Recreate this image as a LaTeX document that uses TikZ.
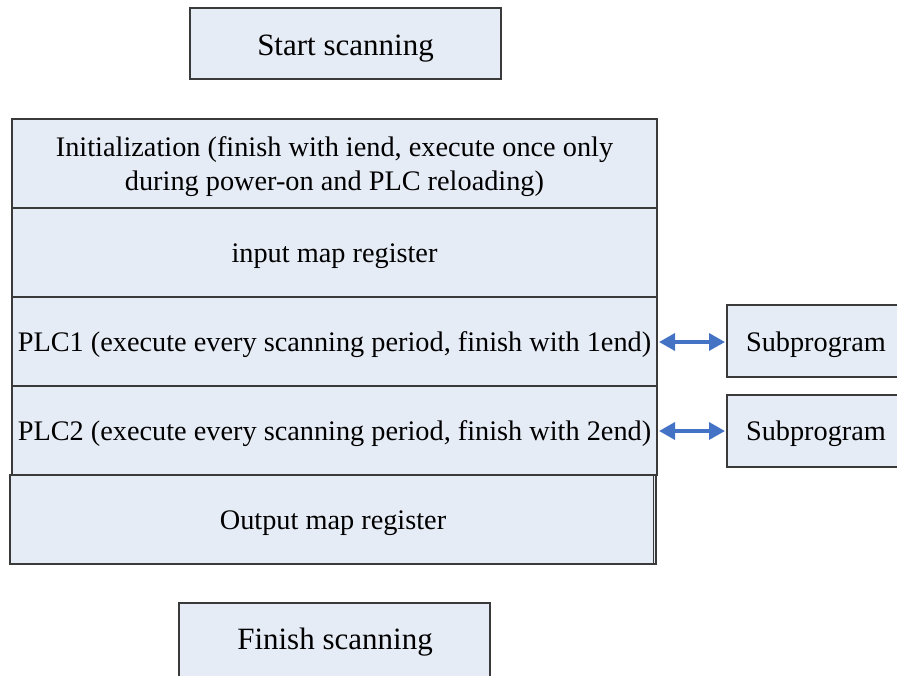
\documentclass[tikz,border=0pt]{standalone}
\usepackage{fontspec}
\setmainfont{Liberation Serif}
\usetikzlibrary{arrows.meta}
\definecolor{boxfill}{HTML}{E6ECF6}
\definecolor{boxline}{HTML}{3A3A3A}
\definecolor{arrowblue}{HTML}{4472C4}
\begin{document}
\begin{tikzpicture}[x=1pt,y=-1pt,
  blk/.style={draw=boxline,line width=1.2pt,fill=boxfill},
  lbl/.style={font=\fontsize{28.3}{34}\selectfont,align=center,inner sep=0pt},
  big/.style={font=\fontsize{31}{36}\selectfont,inner sep=0pt},
  link/.style={arrowblue,line width=3.5pt,{Triangle[length=16pt,width=17pt]}-{Triangle[length=16pt,width=17pt]}}]
\useasboundingbox (0,0) rectangle (897,675);
% start / finish
\draw[blk] (190,8) rectangle (501,79);
\node[big] (start) at (345.5,49) {Start scanning};
\draw[blk] (179,603) rectangle (490,690);
\node[big] (finish) at (335,642) {Finish scanning};
% main stack
\draw[blk] (12,119) rectangle (657,208);
\node[lbl] (init) at (334.5,167) {Initialization (finish with iend, execute once only\\during power-on and PLC reloading)};
\draw[blk] (12,208) rectangle (657,297);
\node[lbl] (inmap) at (334.5,256) {input map register};
\draw[blk] (12,297) rectangle (657,386);
\node[lbl] (plc1) at (334.5,345) {PLC1 (execute every scanning period, finish with 1end)};
\draw[blk] (12,386) rectangle (657,475);
\node[lbl] (plc2) at (334.5,434) {PLC2 (execute every scanning period, finish with 2end)};
\draw[blk] (10,475) rectangle (656,564);
\draw[boxline,line width=1pt] (653,475) -- (653,564);
\node[lbl] (outmap) at (333,523) {Output map register};
% subprograms
\draw[blk] (727,305) rectangle (905,377);
\node[lbl] (sub1) at (816,345) {Subprogram};
\draw[blk] (727,395) rectangle (905,467);
\node[lbl] (sub2) at (816,434) {Subprogram};
\coordinate (a1) at (659,342);
\coordinate (b1) at (725,342);
\coordinate (a2) at (659,431);
\coordinate (b2) at (725,431);
\draw[link] (a1) -- (b1);
\draw[link] (a2) -- (b2);
\end{tikzpicture}
\end{document}
